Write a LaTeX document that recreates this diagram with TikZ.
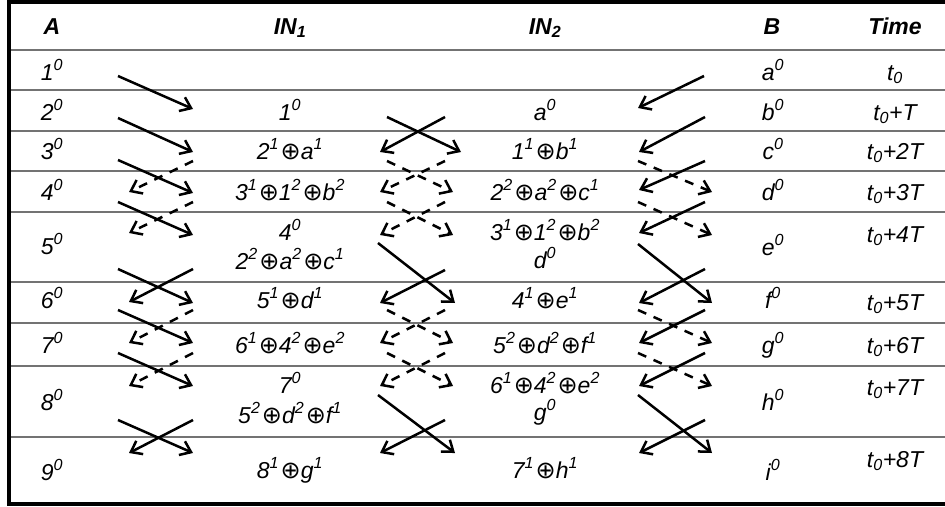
\documentclass[tikz,border=0pt]{standalone}
\usepackage{fontspec}
\setmainfont{Liberation Sans}
\newfontfamily\opfont{DejaVu Sans}
\usetikzlibrary{arrows.meta}
\definecolor{rulegray}{RGB}{115,115,115}
\newcommand\myop{\kern1.5pt{\opfont\fontsize{24}{26}\selectfont ⊕}}
\newcommand\sps[1]{\textsuperscript{#1}}
\begin{document}
\begin{tikzpicture}[x=1pt,y=-1pt,
  every node/.style={anchor=base,inner sep=0pt,font=\fontsize{23}{26}\selectfont\itshape},
  hd/.style={font=\fontsize{23}{26}\selectfont\bfseries\itshape},
  rule/.style={draw=rulegray,line width=1.6pt},
  frame/.style={line width=4pt},
  sarr/.style={line width=2.5pt,-{Straight Barb[length=10pt,width=15pt,line width=2.5pt]}},
  darr/.style={sarr,dash pattern=on 9pt off 8pt}]
\useasboundingbox (0,0) rectangle (945,506);
\draw[frame] (950,1.5) -- (9,1.5) -- (9,504) -- (950,504);
\foreach \yy in {50,90,131,171,212,282,323,366,437}
  \draw[rule] (11,\yy) -- (945,\yy);
% header
\node[hd] (hA)  at (52,34)  {A};
\node[hd] (hI1) at (290,34) {IN\textsubscript{1}};
\node[hd] (hI2) at (545,34) {IN\textsubscript{2}};
\node[hd] (hB)  at (772,34) {B};
\node[hd] (hT)  at (895,34) {Time};
% column A
\node (a1) at (52,80)  {1\sps{0}};
\node (a2) at (52,120) {2\sps{0}};
\node (a3) at (52,159) {3\sps{0}};
\node (a4) at (52,200) {4\sps{0}};
\node (a5) at (52,254) {5\sps{0}};
\node (a6) at (52,308) {6\sps{0}};
\node (a7) at (52,353) {7\sps{0}};
\node (a8) at (52,410) {8\sps{0}};
\node (a9) at (52,480) {9\sps{0}};
% column IN1
\node (p2)  at (290,120) {1\sps{0}};
\node (p3)  at (290,159) {2\sps{1}\myop a\sps{1}};
\node (p4)  at (290,200) {3\sps{1}\myop 1\sps{2}\myop b\sps{2}};
\node (p5)  at (290,240) {4\sps{0}};
\node (p5b) at (290,269) {2\sps{2}\myop a\sps{2}\myop c\sps{1}};
\node (p6)  at (290,308) {5\sps{1}\myop d\sps{1}};
\node (p7)  at (290,353) {6\sps{1}\myop 4\sps{2}\myop e\sps{2}};
\node (p8)  at (290,393) {7\sps{0}};
\node (p8b) at (290,423) {5\sps{2}\myop d\sps{2}\myop f\sps{1}};
\node (p9)  at (290,478) {8\sps{1}\myop g\sps{1}};
% column IN2
\node (q2)  at (545,120) {a\sps{0}};
\node (q3)  at (545,159) {1\sps{1}\myop b\sps{1}};
\node (q4)  at (545,200) {2\sps{2}\myop a\sps{2}\myop c\sps{1}};
\node (q5)  at (545,240) {3\sps{1}\myop 1\sps{2}\myop b\sps{2}};
\node (q5b) at (545,268) {d\sps{0}};
\node (q6)  at (545,308) {4\sps{1}\myop e\sps{1}};
\node (q7)  at (545,353) {5\sps{2}\myop d\sps{2}\myop f\sps{1}};
\node (q8)  at (545,393) {6\sps{1}\myop 4\sps{2}\myop e\sps{2}};
\node (q8b) at (545,420) {g\sps{0}};
\node (q9)  at (545,478) {7\sps{1}\myop h\sps{1}};
% column B
\node (b1) at (773,80)  {a\sps{0}};
\node (b2) at (773,120) {b\sps{0}};
\node (b3) at (773,159) {c\sps{0}};
\node (b4) at (773,200) {d\sps{0}};
\node (b5) at (773,255) {e\sps{0}};
\node (b6) at (773,308) {f\sps{0}};
\node (b7) at (773,353) {g\sps{0}};
\node (b8) at (773,410) {h\sps{0}};
\node (b9) at (773,480) {i\sps{0}};
% column Time
\node (t1) at (895,80)  {t\textsubscript{0}};
\node (t2) at (895,120) {t\textsubscript{0}+T};
\node (t3) at (895,159) {t\textsubscript{0}+2T};
\node (t4) at (895,200) {t\textsubscript{0}+3T};
\node (t5) at (895,242) {t\textsubscript{0}+4T};
\node (t6) at (895,310) {t\textsubscript{0}+5T};
\node (t7) at (895,353) {t\textsubscript{0}+6T};
\node (t8) at (895,395) {t\textsubscript{0}+7T};
\node (t9) at (895,467) {t\textsubscript{0}+8T};
% arrows
\foreach \s/\x/\y/\u/\v [count=\i] in {
  sarr/118/76/193/109, sarr/118/118/193/152,
  sarr/118/160/193/193, darr/193/161/129/192,
  sarr/118/202/193/235, darr/193/202/129/233,
  sarr/118/269/193/303, sarr/193/269/129/302,
  sarr/118/310/193/343, darr/193/310/129/343,
  sarr/118/353/193/386, darr/193/353/129/386,
  sarr/118/420/193/453, sarr/193/420/129/453,
  sarr/387/117/461/152, sarr/445/117/380/152,
  darr/387/161/453/192, darr/445/161/380/192,
  darr/387/202/453/235, darr/445/202/380/235,
  sarr/378/243/455/303, sarr/445/270/380/303,
  darr/387/310/453/343, darr/445/310/380/343,
  darr/387/353/453/386, darr/445/353/380/386,
  sarr/378/395/455/453, sarr/445/420/380/453,
  sarr/704/76/638/108, sarr/705/117/639/152,
  sarr/705/161/639/190, darr/638/161/712/192,
  sarr/705/202/639/233, darr/638/202/712/235,
  sarr/638/244/712/303, sarr/705/269/639/303,
  sarr/705/310/639/343, darr/638/310/712/343,
  sarr/705/353/639/386, darr/638/353/712/386,
  sarr/638/395/712/453, sarr/705/420/639/453}
{
  \coordinate (s\i) at (\x,\y);
  \coordinate (e\i) at (\u,\v);
  \draw[\s] (s\i) -- (e\i);
}
\end{tikzpicture}
\end{document}
